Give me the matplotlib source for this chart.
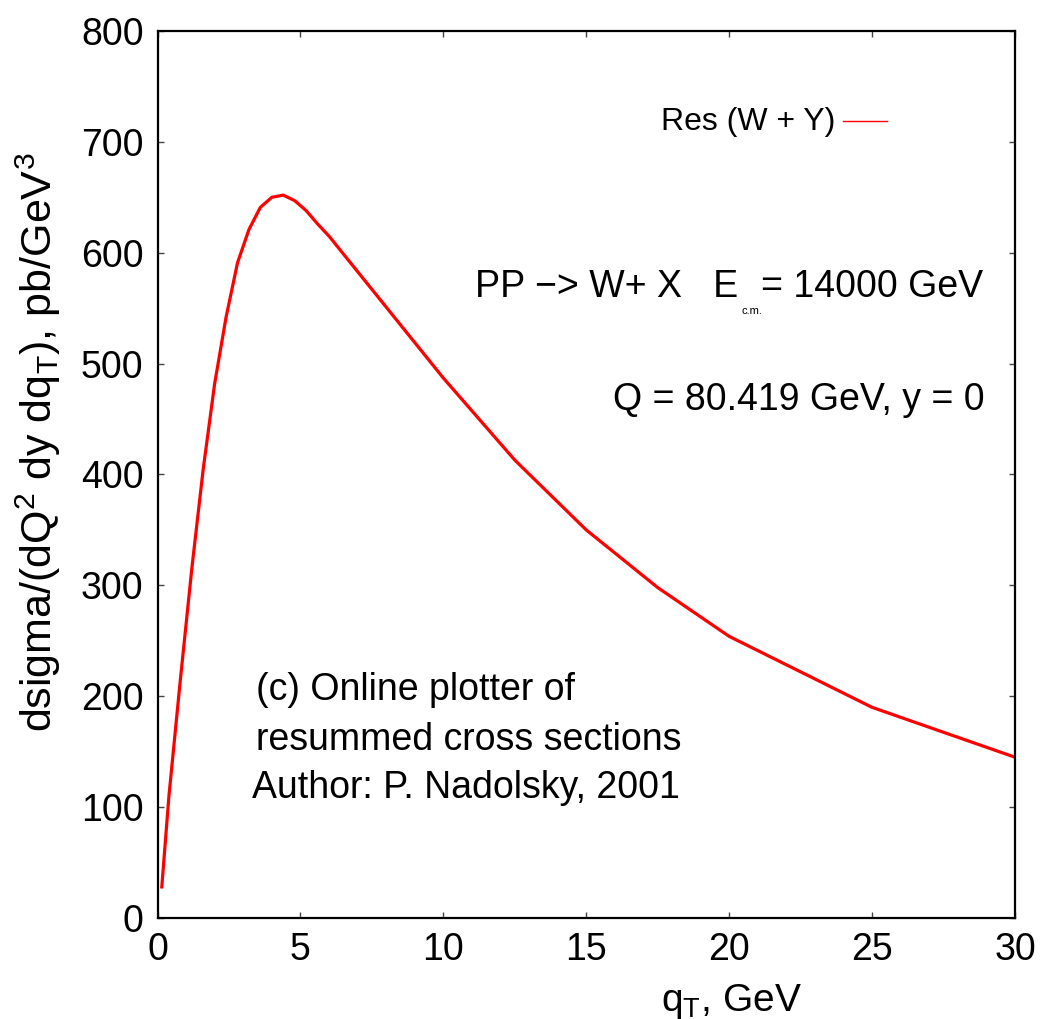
import matplotlib
matplotlib.use("Agg")
import matplotlib.pyplot as plt

plt.rcParams["font.family"] = ["Liberation Sans", "DejaVu Sans"]
plt.rcParams["mathtext.fontset"] = "custom"
plt.rcParams["mathtext.rm"] = "Liberation Sans"
plt.rcParams["mathtext.it"] = "Liberation Sans"
plt.rcParams["mathtext.default"] = "regular"

# values
qT = [0.15, 0.4, 0.8, 1.2, 1.6, 2.0, 2.4, 2.8, 3.2, 3.6, 4.0, 4.4, 4.8, 5.2, 5.6,
      6.0, 7.5, 10, 12.5, 15, 17.5, 20, 25, 30]
sigma = [28, 110, 215, 315, 405, 482, 542, 591, 621, 641, 650, 652, 647, 638, 626,
         615, 567, 487, 413, 350, 298, 254, 190, 145]
x_ticks = [0, 5, 10, 15, 20, 25, 30]
y_ticks = [0, 100, 200, 300, 400, 500, 600, 700, 800]

W, H = 1049, 1019
fig = plt.figure(figsize=(W / 100, H / 100), dpi=100)
ax = fig.add_axes([157.5 / W, 1 - 918 / H, (1015 - 157.5) / W, (918 - 31) / H])

ax.plot(qT, sigma, color="#ff0000", lw=2.3)
ax.set_xlim(0, 30)
ax.set_ylim(0, 800)
ax.set_xticks(x_ticks)
ax.set_yticks(y_ticks)
ax.tick_params(direction="in", length=4, width=1, top=True, right=True,
               labelsize=27, pad=10, color="#444444")
for s in ax.spines.values():
    s.set_linewidth(1.6)

ax.set_xlabel(r"q$_T$, GeV", fontsize=28)
ax.xaxis.set_label_coords((731 - 157.5) / (1015 - 157.5), -0.072)
ax.set_ylabel(r"dsigma/(dQ$^2$ dy dq$_T$), pb/GeV$^3$", fontsize=31)
ax.yaxis.set_label_coords(-(157.5 - 63) / (1015 - 157.5), (918 - 442) / (918 - 31))

def ftxt(x, y, s, **kw):
    fig.text(x / W, 1 - y / H, s, **kw)

# legend
ftxt(835, 130, "Res (W + Y)", fontsize=23, ha="right", va="baseline")
fig.add_artist(plt.Line2D([843 / W, 887 / W], [1 - 121 / H, 1 - 121 / H],
                          color="#ff0000", lw=1))

ftxt(738, 297, "PP \u2212> W+ X   E", fontsize=27, ha="right", va="baseline")
ftxt(742, 314, "c.m.", fontsize=8, ha="left", va="baseline")
ftxt(983, 297, "= 14000 GeV", fontsize=27, ha="right", va="baseline")
ftxt(985, 410, "Q = 80.419 GeV, y = 0", fontsize=27, ha="right", va="baseline")

ftxt(256, 700, "(c) Online plotter of", fontsize=27, ha="left", va="baseline")
ftxt(256, 750, "resummed cross sections", fontsize=27, ha="left", va="baseline")
ftxt(252, 798, "Author: P. Nadolsky, 2001", fontsize=27, ha="left", va="baseline")

fig.savefig("out.png", dpi=100)
